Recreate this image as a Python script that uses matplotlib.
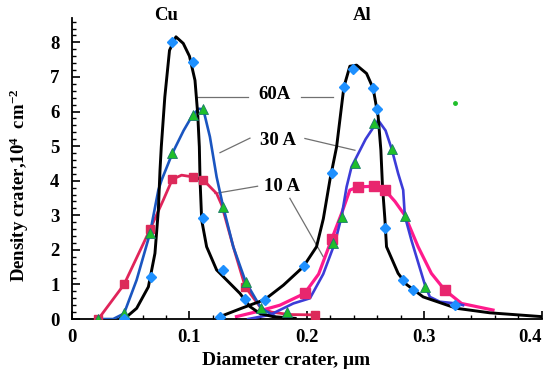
import matplotlib
matplotlib.use("Agg")
import matplotlib.pyplot as plt
from matplotlib.ticker import MultipleLocator

# --- values ---
# Cu, 60 A (black line, blue diamonds)
cu60_line_x = [0.0443, 0.055, 0.065, 0.0706, 0.0735, 0.0749, 0.076, 0.079, 0.083, 0.0885, 0.0947,
               0.1, 0.1047, 0.107, 0.1084, 0.109, 0.1104, 0.1146, 0.1231, 0.1345, 0.143, 0.1515,
               0.16, 0.171, 0.19]
cu60_line_y = [0.0, 0.31, 0.93, 1.9, 3.15, 4.3, 4.98, 6.42, 7.77, 8.16, 7.97,
               7.6, 6.9, 5.94, 4.98, 4.02, 2.86, 2.09, 1.42, 1.03, 0.74, 0.36,
               0.16, 0.07, 0.02]
cu60_pts_x = [0.0443, 0.067, 0.0848, 0.1027, 0.1118, 0.1282, 0.1475]
cu60_pts_y = [0.0, 1.22, 8.01, 7.42, 2.91, 1.42, 0.57]

# Cu, 30 A (blue line, green triangles)
cu30_line_x = [0.0224, 0.035, 0.0443, 0.055, 0.0664, 0.0735, 0.0763, 0.0854, 0.095, 0.1027,
               0.108, 0.1118, 0.1174, 0.1231, 0.1288, 0.1373, 0.1478, 0.161, 0.172]
cu30_line_y = [0.0, 0.0, 0.16, 1.13, 2.48, 3.73, 4.02, 4.79, 5.45, 5.9,
               6.08, 6.06, 5.27, 4.11, 3.23, 2.09, 1.08, 0.31, 0.1]
cu30_pts_x = [0.0224, 0.0443, 0.0664, 0.0854, 0.1027, 0.1118, 0.1288, 0.1478, 0.161, 0.183]
cu30_pts_y = [0.0, 0.16, 2.48, 4.79, 5.9, 6.06, 3.23, 1.08, 0.31, 0.2]

# Cu, 10 A (crimson line, squares)
cu10_line_x = [0.0224, 0.0443, 0.0664, 0.0777, 0.0854, 0.0933, 0.1027, 0.1118, 0.1231, 0.1274,
               0.1373, 0.1475, 0.161, 0.17, 0.185, 0.207]
cu10_line_y = [0.0, 1.0, 2.59, 3.44, 4.04, 4.16, 4.11, 4.02, 3.63, 3.3,
               2.09, 0.93, 0.31, 0.2, 0.13, 0.12]
cu10_pts_x = [0.0224, 0.0443, 0.0664, 0.0854, 0.1027, 0.1118, 0.1475, 0.207]
cu10_pts_y = [0.0, 1.0, 2.59, 4.04, 4.11, 4.02, 0.93, 0.12]

# Al, 60 A (black line, blue diamonds)
al60_line_x = [0.126, 0.145, 0.164, 0.18, 0.1969, 0.2082, 0.214, 0.2196, 0.2253, 0.2315, 0.2366,
               0.2423, 0.2508, 0.2564, 0.2607, 0.263, 0.2644, 0.2664, 0.2678, 0.2777, 0.2848,
               0.299, 0.3274, 0.3557, 0.3997]
al60_line_y = [0.07, 0.32, 0.56, 0.98, 1.51, 2.09, 2.9, 4.02, 4.98, 6.71, 7.31,
               7.34, 7.1, 6.67, 5.85, 4.88, 3.82, 2.9, 2.09, 1.32, 1.0,
               0.64, 0.31, 0.18, 0.07]
al60_pts_x = [0.126, 0.164, 0.1977, 0.221, 0.2315, 0.2389, 0.2564, 0.2593, 0.2664, 0.282,
              0.2905, 0.326]
al60_pts_y = [0.07, 0.55, 1.53, 4.23, 6.71, 7.24, 6.69, 6.06, 2.62, 1.13, 0.84, 0.4]

# Al, 30 A (blue-violet line, green triangles)
al30_line_x = [0.15, 0.1685, 0.1884, 0.2026, 0.2139, 0.2238, 0.2295, 0.2338, 0.238, 0.25,
               0.2607, 0.267, 0.2721, 0.2777, 0.282, 0.2834, 0.289, 0.3004, 0.3047, 0.3132,
               0.3274, 0.333]
al30_line_y = [0.0, 0.12, 0.45, 0.6, 1.3, 2.2, 2.96, 3.82, 4.4, 5.2,
               5.75, 5.45, 4.93, 4.21, 3.73, 2.98, 2.28, 1.0, 0.64, 0.5,
               0.45, 0.4]
al30_pts_x = [0.2224, 0.2295, 0.2409, 0.257, 0.2721, 0.2834, 0.3004]
al30_pts_y = [2.19, 2.96, 4.5, 5.66, 4.93, 2.98, 0.93]

# Al, 10 A (deep pink line, squares)
al10_line_x = [0.14, 0.157, 0.177, 0.198, 0.21, 0.221, 0.2295, 0.2366, 0.2437, 0.257, 0.2664,
               0.275, 0.2834, 0.2947, 0.306, 0.3174, 0.3317, 0.3585]
al10_line_y = [0.07, 0.21, 0.4, 0.74, 1.3, 2.3, 3.05, 3.73, 3.82, 3.84, 3.73,
               3.4, 3.0, 2.09, 1.32, 0.84, 0.45, 0.26]
al10_pts_x = [0.198, 0.221, 0.2437, 0.257, 0.2664, 0.3174]
al10_pts_y = [0.74, 2.3, 3.82, 3.84, 3.73, 0.84]

x_ticks = [0, 0.1, 0.2, 0.3, 0.4]
x_tick_labels = ["0", "0.1", "0.2", "0.3", "0.4"]

# label text positions and leader lines (data coords)
label_texts = ["60A", "30 A", "10 A"]
label_x = [0.1728, 0.175, 0.179]
label_y = [6.49, 5.17, 3.84]
leaders = [
    [(0.106, 6.42), (0.150, 6.42)], [(0.195, 6.42), (0.2225, 6.42)],
    [(0.126, 4.81), (0.1515, 5.23)], [(0.1983, 5.22), (0.2409, 4.88)],
    [(0.1217, 3.63), (0.158, 3.84)], [(0.1855, 3.49), (0.2139, 1.80)],
]
metal_names = ["Cu", "Al"]
metal_x = [0.08, 0.247]
stray_dot = (0.326, 6.24)

SERIF = ["Liberation Serif", "DejaVu Serif"]
plt.rcParams["font.family"] = SERIF
plt.rcParams["font.weight"] = "bold"
plt.rcParams["mathtext.fontset"] = "custom"
plt.rcParams["mathtext.rm"] = "Liberation Serif:bold"
plt.rcParams["mathtext.it"] = "Liberation Serif:bold"

fig = plt.figure(figsize=(5.5, 3.78), dpi=100)
ax = fig.add_axes([0.131, 0.156, 0.854, 0.796])

diamond = dict(marker="D", color="#1e90ff", markersize=5.5, linestyle="none", zorder=5)
triangle = dict(marker="^", markerfacecolor="#1fbf2a", markeredgecolor="#1a7a6a",
                markeredgewidth=0.6, markersize=7.5, linestyle="none", zorder=5)

# lines
ax.plot(cu10_line_x, cu10_line_y, color="#e0245a", lw=2.0, zorder=2)
ax.plot(al10_line_x, al10_line_y, color="#ff1a8c", lw=2.3, zorder=2)
ax.plot(cu30_line_x, cu30_line_y, color="#1a55c0", lw=1.9, zorder=3)
ax.plot(al30_line_x, al30_line_y, color="#3c3cd8", lw=1.9, zorder=3)
ax.plot(cu60_line_x, cu60_line_y, color="black", lw=2.1, zorder=4)
ax.plot(al60_line_x, al60_line_y, color="black", lw=2.1, zorder=4)

# markers
ax.plot(cu10_pts_x, cu10_pts_y, marker="s", color="#dc2a5a", markersize=5.5, linestyle="none", zorder=5)
ax.plot(al10_pts_x, al10_pts_y, marker="s", color="#e8266e", markersize=6.5, linestyle="none", zorder=5)
ax.plot(cu30_pts_x, cu30_pts_y, **triangle)
ax.plot(al30_pts_x, al30_pts_y, **triangle)
ax.plot(cu60_pts_x, cu60_pts_y, **diamond)
ax.plot(al60_pts_x, al60_pts_y, **diamond)
ax.plot([stray_dot[0]], [stray_dot[1]], "o", color="#1fbf2a", markersize=2.5)

# labels with leader lines
for (p0, p1) in leaders:
    ax.plot([p0[0], p1[0]], [p0[1], p1[1]], color="#707070", lw=0.9, zorder=1)
for t, x, y in zip(label_texts, label_x, label_y):
    ax.text(x, y, t, ha="center", va="center", fontsize=13.5, fontweight="bold")
for name, x in zip(metal_names, metal_x):
    ax.text(x, 8.78, name, ha="center", va="center", fontsize=13.5, fontweight="bold",
            clip_on=False)

ax.set_xlim(0, 0.4)
ax.set_ylim(0, 8.7)
ax.spines["top"].set_visible(False)
ax.spines["right"].set_visible(False)
ax.spines["left"].set_linewidth(1.3)
ax.spines["bottom"].set_linewidth(1.3)
ax.set_xticks(x_ticks, x_tick_labels)
ax.get_xticklabels()[-1].set_ha("right")
ax.xaxis.set_minor_locator(MultipleLocator(0.02))
ax.yaxis.set_major_locator(MultipleLocator(1))
ax.yaxis.set_minor_locator(MultipleLocator(0.2))
ax.tick_params(which="major", direction="in", length=6, width=1.2, labelsize=13.5, pad=7)
ax.tick_params(which="minor", direction="in", length=3, width=1.0)
ax.tick_params(axis="y", pad=9)

ax.set_xlabel("Diameter crater, \u03bcm", fontsize=14, fontweight="bold")
ax.xaxis.set_label_coords(0.455, -0.11, transform=ax.transAxes)
ax.xaxis.label.set_va("top")
ax.set_ylabel("Density crater,10$^4$  cm$^{-2}$", fontsize=13.5, fontweight="bold")
ax.yaxis.set_label_coords(-0.088, 0.445, transform=ax.transAxes)

fig.savefig("out.png", dpi=100)
